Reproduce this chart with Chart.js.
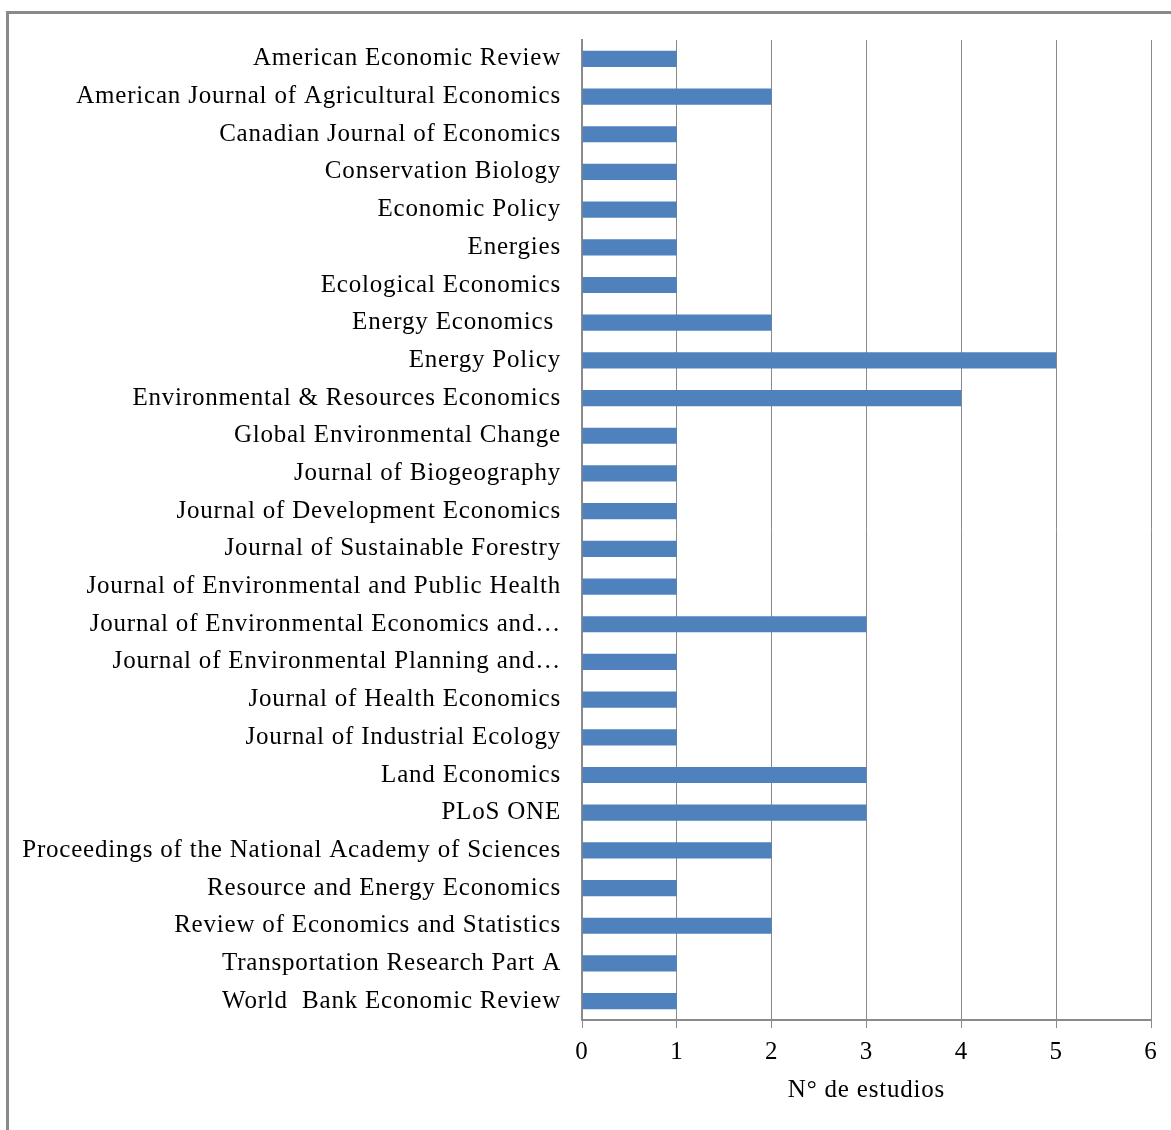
<!DOCTYPE html>
<html>
<head>
<meta charset="utf-8">
<script src="https://cdn.jsdelivr.net/npm/chart.js@4.4.1/dist/chart.umd.min.js"></script>
<style>
  html, body { margin: 0; padding: 0; background: #fff; }
  #frame {
    position: absolute; left: 6px; top: 11px;
    width: 1200px; height: 1200px;
    border: 3px solid #898989;
  }
  #myChart { position: absolute; left: 0; top: 0; }
</style>
</head>
<body>
<div id="frame"></div>
<canvas id="myChart" width="1171" height="1130"></canvas>
<script>
"use strict";

const journals = [
  "American Economic Review",
  "American Journal of Agricultural Economics",
  "Canadian Journal of Economics",
  "Conservation Biology",
  "Economic Policy",
  "Energies",
  "Ecological Economics",
  "Energy Economics ",
  "Energy Policy",
  "Environmental & Resources Economics",
  "Global Environmental Change",
  "Journal of Biogeography",
  "Journal of Development Economics",
  "Journal of Sustainable Forestry",
  "Journal of Environmental and Public Health",
  "Journal of Environmental Economics and…",
  "Journal of Environmental Planning and…",
  "Journal of Health Economics",
  "Journal of Industrial Ecology",
  "Land Economics",
  "PLoS ONE",
  "Proceedings of the National Academy of Sciences",
  "Resource and Energy Economics",
  "Review of Economics and Statistics",
  "Transportation Research Part A",
  "World  Bank Economic Review",
];

const studies = [1, 2, 1, 1, 1, 1, 1, 2, 5, 4, 1, 1, 1, 1, 1, 3, 1, 1, 1, 3, 3, 2, 1, 2, 1, 1];

const xTicks = [0, 1, 2, 3, 4, 5, 6];
const xTitle = "N° de estudios";

const font = { family: "'Liberation Serif', 'Times New Roman', serif", size: 25 };
const gridGray = "#8a8a8a";

// the source text is rendered a bit wider than plain Times
const wideText = {
  id: "wideText",
  beforeUpdate(chart) {
    chart.ctx.letterSpacing = "0.8px";
  },
  beforeDraw(chart) {
    chart.ctx.letterSpacing = "0.8px";
  },
};

const data = {
  labels: journals,
  datasets: [
    {
      label: xTitle,
      data: studies,
      backgroundColor: "#4f81bd",
      borderWidth: 0,
      categoryPercentage: 1,
      barPercentage: 0.43,
    },
  ],
};

const config = {
  type: "bar",
  data: data,
  plugins: [wideText],
  options: {
    indexAxis: "y",
    responsive: false,
    animation: false,
    layout: { padding: { top: 40, right: 20, left: 0, bottom: 0 } },
    plugins: {
      legend: { display: false },
      tooltip: { enabled: false },
    },
    scales: {
      x: {
        min: xTicks[0],
        max: xTicks[xTicks.length - 1],
        afterBuildTicks: (scale) => {
          scale.ticks = xTicks.map((v) => ({ value: v }));
        },
        afterFit: (scale) => {
          scale.height = 110;
        },
        grid: {
          color: gridGray,
          lineWidth: 1,
          tickLength: 8,
        },
        border: { color: gridGray, width: 2 },
        ticks: { color: "#000", font: font, padding: 9, maxRotation: 0 },
        title: {
          display: true,
          text: xTitle,
          color: "#000",
          font: font,
          padding: { top: 0, bottom: 25 },
        },
      },
      y: {
        afterFit: (scale) => {
          scale.width = 582;
        },
        grid: { display: false, drawTicks: false },
        border: { color: gridGray, width: 2 },
        ticks: { color: "#000", font: font, padding: 21, autoSkip: false },
      },
    },
  },
};

const canvasChart = document.getElementById("myChart");
new Chart(canvasChart, config);
</script>
</body>
</html>
